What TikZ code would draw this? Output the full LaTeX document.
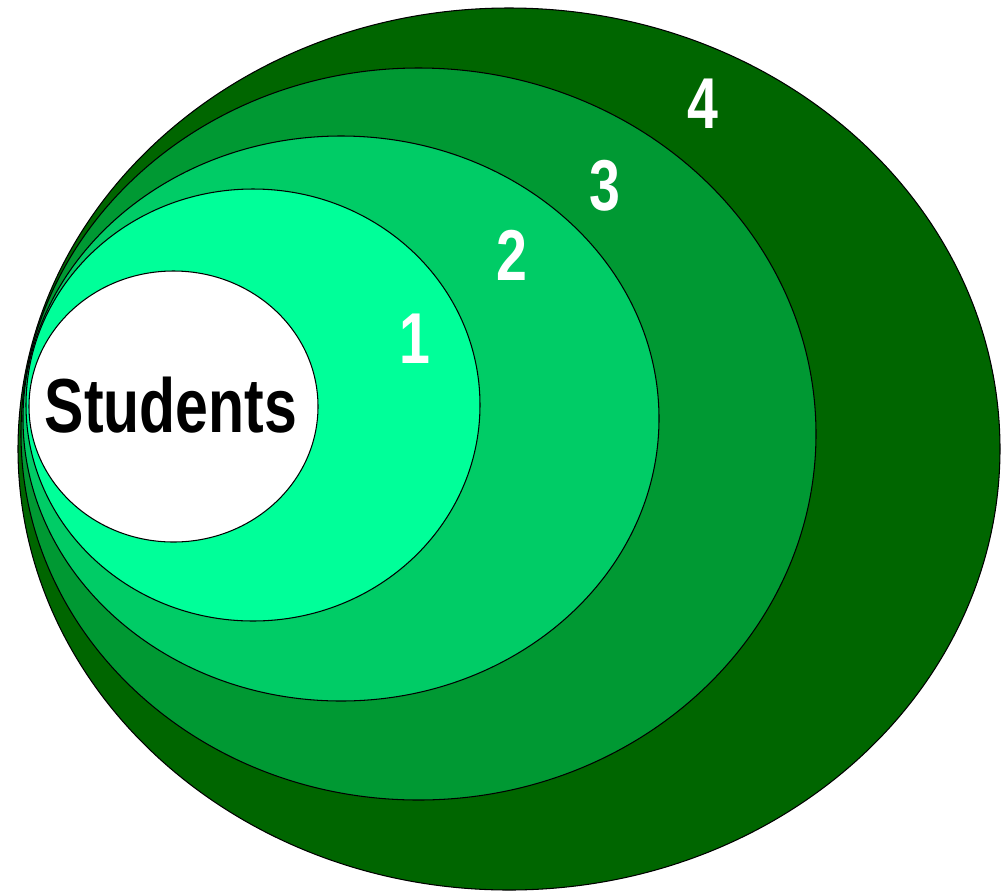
\documentclass[tikz,border=0pt]{standalone}
\usepackage{fontspec}
\usepackage{xcolor}
\usepackage{tikz}
\newfontfamily\ringfont[FakeStretch=0.77]{Liberation Sans}
\definecolor{ringcore}{HTML}{FFFFFF}
\definecolor{ringone}{HTML}{00FF99}
\definecolor{ringtwo}{HTML}{00CC66}
\definecolor{ringthree}{HTML}{009933}
\definecolor{ringfour}{HTML}{006600}

\begin{document}
\begin{tikzpicture}[
  x=0.02cm, y=-0.02cm,
  ring/.style={draw=black, line width=0.6pt},
  ringlabel/.style={anchor=base, inner sep=0pt, text=white,
                    font=\ringfont\bfseries\fontsize{41}{48}\selectfont},
  corelabel/.style={anchor=base, inner sep=0pt, text=black,
                    font=\ringfont\bfseries\fontsize{43.6}{50}\selectfont},
]
\useasboundingbox (0,0) rectangle (1001,890);

% nested levels, outermost first
\filldraw[ring, fill=ringfour]  (509,449)   ellipse (491 and 441);
\filldraw[ring, fill=ringthree] (418.5,434) ellipse (397.5 and 366);
\filldraw[ring, fill=ringtwo]   (341,418.5) ellipse (318 and 282.5);
\filldraw[ring, fill=ringone]   (253,405)   ellipse (227 and 216);
\filldraw[ring, fill=ringcore]  (173.5,406.5) ellipse (144.5 and 135.5);

\node[corelabel] (students) at (171,432) {Students};
\node[ringlabel] (lvlone)   at (415,363) {1};
\node[ringlabel] (lvltwo)   at (512,280) {2};
\node[ringlabel] (lvlthree) at (605,210) {3};
\node[ringlabel] (lvlfour)  at (703,128) {4};
\end{tikzpicture}
\end{document}
